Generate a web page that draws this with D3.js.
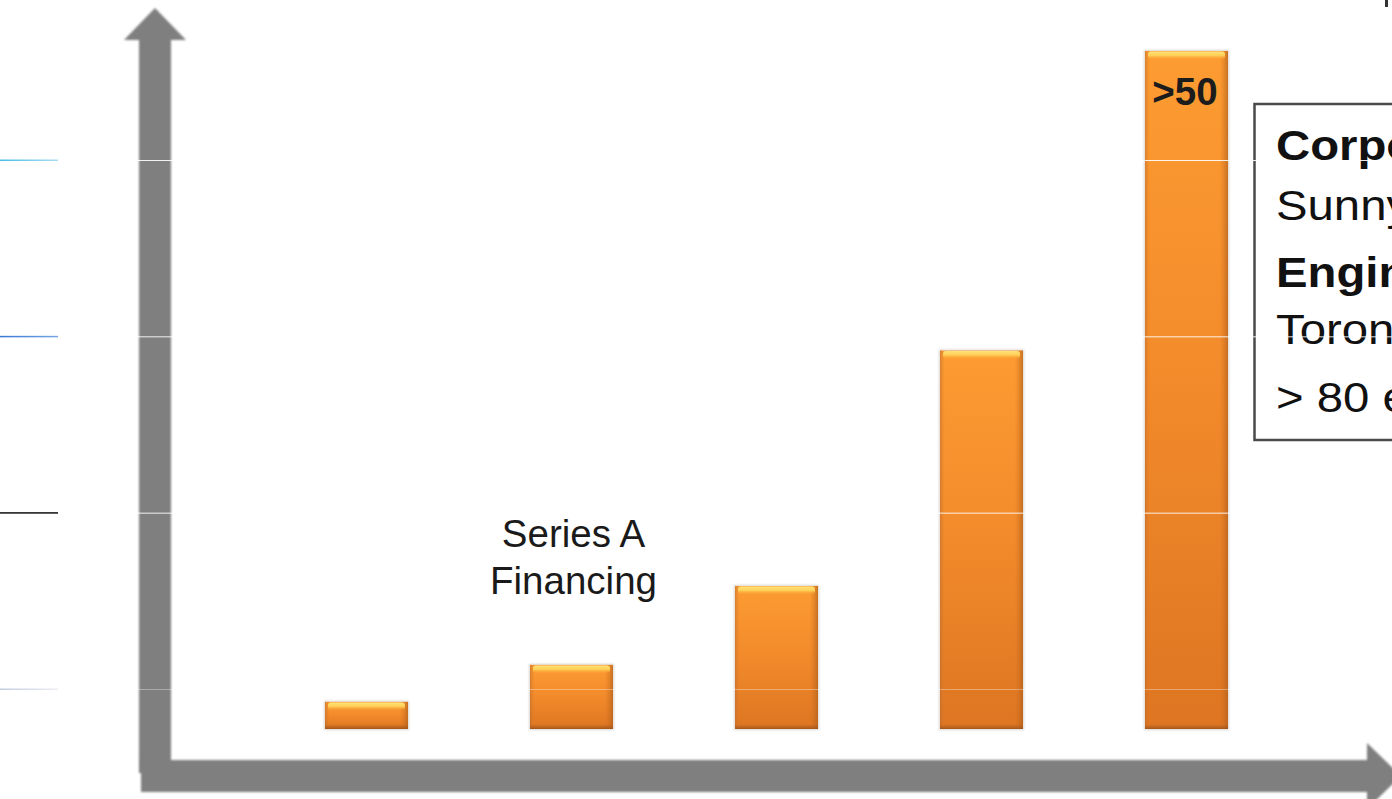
<!DOCTYPE html>
<html>
<head>
<meta charset="utf-8">
<script src="https://cdn.jsdelivr.net/npm/d3@7"></script>
<style>
  html, body { margin: 0; padding: 0; background: #fff; }
  svg { display: block; }
</style>
</head>
<body>
<svg id="chart" width="1392" height="799"></svg>
<script>
// ---- data ----
const categories = ["Stage 1", "Stage 2", "Stage 3", "Stage 4", "Stage 5"];
const values = [2.2, 5.2, 11.6, 30.7, 55];
const barLabels = ["", "", "", "", ">50"];
const annotationIndex = 1;
const annotationLines = ["Series A", "Financing"];
const boxLines = [
  { text: "Corporate HQ", bold: true },
  { text: "Sunnyvale, CA", bold: false },
  { text: "Engineering", bold: true },
  { text: "Toronto, Canada", bold: false },
  { text: "> 80 employees", bold: false }
];
const guideRows = [0, 1, 2, 3];
const guideColors = [
  ["#c4cce0", "#eceef3"],
  ["#111111", "#111111"],
  ["#3a78d6", "#78a6e2"],
  ["#49bde9", "#a9dcf1"]
];

// ---- setup ----
const W = 1392, H = 799;
const svg = d3.select("#chart");
const defs = svg.append("defs");
const gray = "#7f7f7f";
const font = "'Liberation Sans', Arial, sans-serif";

const x = d3.scalePoint().domain(categories).range([366.5, 1186.5]);
const y = d3.scaleLinear().domain([0, 55]).range([729, 51]);
const guideY = d3.scaleLinear().domain([0, 3]).range([689, 160]);
const barW = 83;

svg.append("rect").attr("width", W).attr("height", H).attr("fill", "#fff");

// gradients
function linGrad(id, x1, y1, x2, y2, stops) {
  const g = defs.append("linearGradient").attr("id", id)
    .attr("x1", x1).attr("y1", y1).attr("x2", x2).attr("y2", y2);
  stops.forEach(s => g.append("stop").attr("offset", s[0]).attr("stop-color", s[1]).attr("stop-opacity", s[2] == null ? 1 : s[2]));
}
linGrad("barFill", 0, 0, 0, 1, [[0, "#fd9c32"], [0.5, "#f28a2b"], [1, "#dd7522"]]);
linGrad("barSides", 0, 0, 1, 0, [[0, "#b8682a", 0.55], [0.06, "#e08030", 0.0], [0.9, "#d06a1a", 0.0], [1, "#a85c1c", 0.65]]);
linGrad("barTop", 0, 0, 0, 1, [[0, "#ffe27a"], [0.5, "#ffcf55"], [1, "#fca53a", 0]]);
linGrad("barBottom", 0, 0, 0, 1, [[0, "#b8601c", 0], [1, "#98521c", 0.9]]);
guideColors.forEach((c, i) => linGrad("guide" + i, 0, 0, 1, 0, [[0, c[0]], [1, c[1]]]));

const blur = defs.append("filter").attr("id", "soft").attr("x", "-10%").attr("y", "-10%").attr("width", "120%").attr("height", "120%");
blur.append("feGaussianBlur").attr("stdDeviation", 0.8);

// ---- axes arrows ----
const axes = svg.append("g").attr("fill", gray);
axes.append("path")
  .attr("d", d3.line()([[139, 773], [139, 40], [124, 40], [155, 8], [186, 40], [171, 40], [171, 773]]) + "Z")
  .attr("filter", "url(#soft)");
axes.append("path")
  .attr("d", d3.line()([[141, 760], [1367, 760], [1367, 743], [1401, 776], [1367, 809], [1367, 792], [141, 792]]) + "Z")
  .attr("filter", "url(#soft)");

// ---- bars ----
const bars = svg.append("g").selectAll("g.bar").data(values).join("g").attr("class", "bar")
  .attr("transform", (d, i) => `translate(${x(categories[i]) - barW / 2},${y(d)})`);

bars.append("rect").attr("x", -1).attr("y", -1)
  .attr("width", barW + 2).attr("height", d => y(0) - y(d) + 2)
  .attr("fill", "#9a8a7a").attr("opacity", 0.35).attr("filter", "url(#soft)");
bars.append("rect").attr("width", barW).attr("height", d => y(0) - y(d)).attr("fill", "url(#barFill)");
bars.append("rect").attr("width", barW).attr("height", d => y(0) - y(d)).attr("fill", "url(#barSides)");
bars.append("rect").attr("x", 3).attr("y", 0.5).attr("width", barW - 6).attr("height", 8)
  .attr("rx", 3).attr("fill", "url(#barTop)");
bars.append("rect").attr("x", 0).attr("y", d => y(0) - y(d) - 5).attr("width", barW).attr("height", 5)
  .attr("fill", "url(#barBottom)");

// bar value labels
svg.append("g").selectAll("text").data(values).join("text")
  .attr("x", (d, i) => x(categories[i]) - 1.5)
  .attr("y", d => y(d) + 54)
  .attr("text-anchor", "middle")
  .attr("font-family", font).attr("font-weight", "bold").attr("font-size", 38.5)
  .attr("fill", "#1c1c1c")
  .text((d, i) => barLabels[i]);

// annotation
svg.append("text")
  .attr("text-anchor", "middle")
  .attr("font-family", font).attr("font-size", 38.5).attr("fill", "#1a1a1a")
  .selectAll("tspan").data(annotationLines).join("tspan")
  .attr("x", x(categories[annotationIndex]) + 2)
  .attr("y", (d, i) => 547 + i * 47)
  .text(d => d);

// ---- text box ----
svg.append("rect").attr("x", 1254.5).attr("y", 104).attr("width", 200).attr("height", 336)
  .attr("fill", "#fff").attr("stroke", "#4a4a4a").attr("stroke-width", 2.5);
const boxBaselines = [160, 220, 287, 344, 412];
const boxG = svg.append("g").attr("transform", "translate(1276,0) scale(1.1,1)");
boxG.selectAll("text").data(boxLines).join("text")
  .attr("x", 0).attr("y", (d, i) => boxBaselines[i])
  .attr("font-family", font).attr("font-size", 43)
  .attr("font-weight", d => d.bold ? "bold" : "normal")
  .attr("fill", "#111")
  .text(d => d.text);

// small fragment at top-right
svg.append("rect").attr("x", 1385).attr("y", 0).attr("width", 3).attr("height", 7).attr("fill", "#333");

// ---- guide rows (slide artifacts) ----
const guides = svg.append("g");
guides.selectAll("line.w").data(guideRows).join("line").attr("class", "w")
  .attr("x1", 58).attr("x2", W)
  .attr("y1", d => guideY(d) + 0.5).attr("y2", d => guideY(d) + 0.5)
  .attr("stroke", "#fff").attr("stroke-width", 1)
  .attr("stroke-opacity", d => d === 0 ? 0.35 : 0.9);
guides.selectAll("rect.c").data(guideRows).join("rect").attr("class", "c")
  .attr("x", 0).attr("width", 58)
  .attr("y", d => guideY(d) - 0.5).attr("height", 1.5)
  .attr("fill", d => "url(#guide" + d + ")");
</script>
</body>
</html>
